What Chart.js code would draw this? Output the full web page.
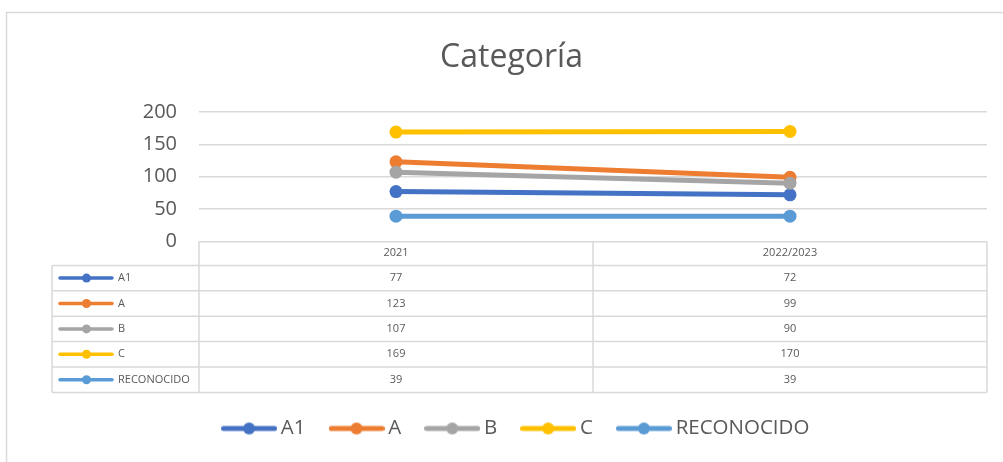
<!DOCTYPE html>
<html>
<head>
<meta charset="utf-8">
<script src="https://cdn.jsdelivr.net/npm/chart.js@4/dist/chart.umd.min.js"></script>
<style>
body { margin: 0; background: #fff; }
#wrap { position: relative; width: 1003px; height: 462px; }
</style>
</head>
<body>
<div id="wrap"><canvas id="categoriaChart"></canvas></div>
<script>
// data
var labels = ['2021', '2022/2023']
var seriesNames = ['A1', 'A', 'B', 'C', 'RECONOCIDO']
var a1 = [77, 72]
var a = [123, 99]
var b = [107, 90]
var c = [169, 170]
var reconocido = [39, 39]
var yTicks = [0, 50, 100, 150, 200]

var seriesValues = [a1, a, b, c, reconocido]
var colors = ['#4472C4', '#ED7D31', '#A5A5A5', '#FFC000', '#5B9BD5']
var textColor = '#595959'
var gridColor = '#d9d9d9'
var family = "'Open Sans', sans-serif"

//little line+dot icon for the legend
function legendIcon(color) {
    var cv = document.createElement('canvas')
    cv.width = 56
    cv.height = 14
    var ctx = cv.getContext('2d')
    ctx.strokeStyle = color
    ctx.lineWidth = 5
    ctx.lineCap = 'round'
    ctx.beginPath()
    ctx.moveTo(2.5, 7)
    ctx.lineTo(53.5, 7)
    ctx.stroke()
    ctx.fillStyle = color
    ctx.beginPath()
    ctx.arc(28, 7, 6, 0, Math.PI * 2)
    ctx.fill()
    return cv
}
var icons = colors.map(legendIcon)

//data table under the plot + outer frame
var tablePlugin = {
    id: 'dataTable',
    afterLayout: function (chart) {
        // excel centres the legend a bit further right
        chart.legend.left += 7
        chart.legend.right += 7
    },
    beforeDraw: function (chart) {
        var ctx = chart.ctx
        ctx.save()
        ctx.strokeStyle = gridColor
        ctx.lineWidth = 1.5
        ctx.strokeRect(6.5, 12.5, 1200, 600)
        ctx.restore()
    },
    afterDraw: function (chart) {
        var ctx = chart.ctx
        var area = chart.chartArea
        var xs = chart.scales.x
        var n = chart.data.datasets.length
        var top = area.bottom
        var headH = 24
        var rowH = 25.4
        var left = area.left - 147
        var bottom = top + headH + rowH * n
        var colW = area.width / chart.data.labels.length

        ctx.save()
        ctx.strokeStyle = gridColor
        ctx.lineWidth = 1.5
        ctx.beginPath()
        for (var r = 0; r <= n; r++) {
            var y = top + headH + r * rowH
            ctx.moveTo(left, y)
            ctx.lineTo(area.right, y)
        }
        ctx.moveTo(left, top + headH)
        ctx.lineTo(left, bottom)
        for (var k = 0; k <= chart.data.labels.length; k++) {
            var x = area.left + k * colW
            ctx.moveTo(x, top)
            ctx.lineTo(x, bottom)
        }
        ctx.stroke()

        ctx.font = '11px ' + family
        ctx.textBaseline = 'middle'
        chart.data.datasets.forEach(function (ds, i) {
            var cy = top + headH + rowH * i + rowH / 2
            ctx.strokeStyle = ds.borderColor
            ctx.lineWidth = 3.5
            ctx.lineCap = 'round'
            ctx.beginPath()
            ctx.moveTo(left + 8, cy)
            ctx.lineTo(left + 60, cy)
            ctx.stroke()
            ctx.fillStyle = ds.borderColor
            ctx.beginPath()
            ctx.arc(left + 34.5, cy, 4.5, 0, Math.PI * 2)
            ctx.fill()
            ctx.fillStyle = textColor
            ctx.textAlign = 'left'
            ctx.fillText(ds.label, left + 66, cy)
            ctx.textAlign = 'center'
            ds.data.forEach(function (v, j) {
                ctx.fillText(String(v), xs.getPixelForValue(j), cy)
            })
        })
        ctx.restore()
    }
}

var datasets = seriesNames.map(function (name, i) {
    return {
        label: name,
        data: seriesValues[i],
        borderColor: colors[i],
        backgroundColor: colors[i],
        borderWidth: 5,
        borderCapStyle: 'round',
        pointRadius: 6.5,
        pointHoverRadius: 6.5,
        pointBorderWidth: 0,
        pointBackgroundColor: colors[i],
        tension: 0,
        order: seriesNames.length - i
    }
})

new Chart(document.getElementById('categoriaChart'), {
    type: 'line',
    data: {
        labels: labels,
        datasets: datasets
    },
    options: {
        responsive: true,
        maintainAspectRatio: false,
        animation: false,
        layout: { padding: { left: 36, right: 16, top: 0, bottom: 13.3 } },
        plugins: {
            title: {
                display: true,
                text: 'Categoría',
                color: textColor,
                font: { family: family, size: 32, weight: 'normal' },
                padding: { top: 39, bottom: 34.6 }
            },
            legend: {
                position: 'bottom',
                labels: {
                    usePointStyle: true,
                    pointStyleWidth: 43,
                    padding: 29.5,
                    color: textColor,
                    font: { family: family, size: 20.5 },
                    generateLabels: function (chart) {
                        var items = Chart.defaults.plugins.legend.labels.generateLabels(chart)
                        items.forEach(function (it) { it.pointStyle = icons[it.datasetIndex] })
                        return items
                    },
                    sort: function (p, q) { return p.datasetIndex - q.datasetIndex }
                }
            },
            tooltip: { enabled: false }
        },
        scales: {
            x: {
                offset: true,
                grid: { display: false, drawTicks: false },
                border: { display: false },
                ticks: { color: textColor, font: { family: family, size: 11 }, padding: 5, maxRotation: 0 },
                afterFit: function (s) { s.height = 147.3 }
            },
            y: {
                min: yTicks[0],
                max: yTicks[yTicks.length - 1],
                ticks: { stepSize: yTicks[1] - yTicks[0], color: textColor, font: { family: family, size: 20 }, padding: 22 },
                grid: { color: gridColor, lineWidth: 1.5, drawTicks: false },
                border: { display: false },
                afterFit: function (s) { s.width = 163 }
            }
        }
    },
    plugins: [tablePlugin]
})
</script>
</body>
</html>
